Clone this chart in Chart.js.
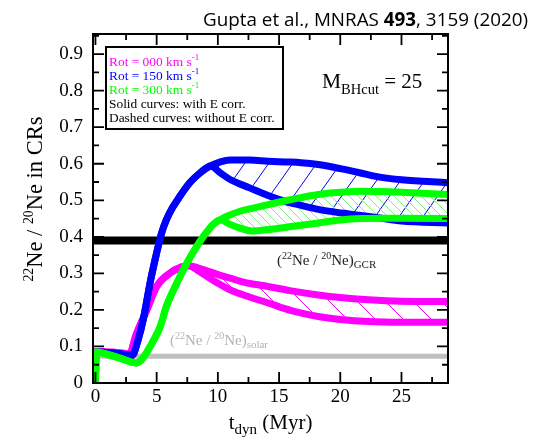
<!DOCTYPE html>
<html>
<head>
<meta charset="utf-8">
<script src="https://cdn.jsdelivr.net/npm/chart.js@4.4.0/dist/chart.umd.min.js"></script>
<style>
  html, body { margin: 0; padding: 0; background: #fff; }
  #wrap { width: 543px; height: 439px; }
</style>
</head>
<body>
<div id="wrap"><canvas id="c" width="543" height="439"></canvas></div>
<script>
// Rot = 000 km/s (magenta)
const tMag = [0.1, 1.5, 2.8, 3.3, 4.2, 5.0, 6.1, 7.0, 7.6, 8.5, 9.1, 9.9, 11.0, 12.1, 14.1, 16.0, 18.2, 20.0, 22.3, 25.0, 28.8];
const magWith = [0.086, 0.084, 0.080, 0.130, 0.200, 0.264, 0.301, 0.317, 0.321, 0.314, 0.307, 0.298, 0.287, 0.276, 0.264, 0.252, 0.241, 0.234, 0.228, 0.224, 0.223];
const magWithout = [0.086, 0.084, 0.080, 0.130, 0.200, 0.264, 0.301, 0.317, 0.321, 0.305, 0.292, 0.275, 0.255, 0.241, 0.219, 0.198, 0.182, 0.174, 0.168, 0.166, 0.166];

// Rot = 150 km/s (blue)
const tBlue = [0.1, 1.5, 3.0, 3.5, 3.9, 4.5, 5.0, 5.4, 5.8, 6.3, 6.9, 7.7, 8.55, 9.4, 10.2, 11.0, 12.6, 14.1, 15.5, 16.8, 18.2, 20.1, 21.5, 23.1, 25.0, 28.8];
const blueWith = [0.085, 0.082, 0.076, 0.120, 0.173, 0.280, 0.356, 0.410, 0.447, 0.480, 0.511, 0.548, 0.575, 0.594, 0.605, 0.610, 0.610, 0.607, 0.605, 0.603, 0.598, 0.586, 0.576, 0.564, 0.556, 0.548];
const blueWithout = [0.085, 0.082, 0.076, 0.120, 0.173, 0.280, 0.356, 0.410, 0.447, 0.480, 0.511, 0.548, 0.575, 0.594, 0.575, 0.557, 0.534, 0.513, 0.497, 0.486, 0.475, 0.465, 0.459, 0.452, 0.443, 0.438];

// Rot = 300 km/s (green)
const tGreen = [0.0, 0.1, 1.0, 2.0, 3.3, 3.8, 4.3, 4.8, 5.3, 5.8, 6.6, 7.5, 8.2, 8.8, 9.5, 10.2, 11.0, 11.8, 12.8, 14.1, 16.0, 18.2, 20.0, 21.7, 23.5, 25.0, 28.8];
const greenWith = [0.005, 0.085, 0.078, 0.068, 0.055, 0.065, 0.090, 0.120, 0.155, 0.210, 0.270, 0.330, 0.370, 0.400, 0.430, 0.447, 0.460, 0.470, 0.478, 0.488, 0.502, 0.516, 0.522, 0.525, 0.524, 0.522, 0.516];
const greenWithout = [0.005, 0.085, 0.078, 0.068, 0.055, 0.065, 0.090, 0.120, 0.155, 0.210, 0.270, 0.330, 0.370, 0.400, 0.430, 0.447, 0.434, 0.424, 0.416, 0.420, 0.428, 0.438, 0.446, 0.450, 0.451, 0.451, 0.450];

// reference ratios
const gcrRatio = 0.39;
const solarRatio = 0.073;
const tSpan = [-0.2, 28.8];

// axes
const xTicks = [0, 5, 10, 15, 20, 25];
const xTickLabels = ['0', '5', '10', '15', '20', '25'];
const xMinor = [2.5, 7.5, 12.5, 17.5, 22.5, 27.5];
const yTicks = [0, 0.1, 0.2, 0.3, 0.4, 0.5, 0.6, 0.7, 0.8, 0.9];
const yTickLabels = ['0', '0.1', '0.2', '0.3', '0.4', '0.5', '0.6', '0.7', '0.8', '0.9'];
const yMinor = [0.05, 0.15, 0.25, 0.35, 0.45, 0.55, 0.65, 0.75, 0.85, 0.95];

const SERIF = '"Liberation Serif", "DejaVu Serif", serif';
const MAG = '#ff00ff', BLUE = '#0000ff', GREEN = '#00ff00';

const pts = (xs, ys) => xs.map((x, i) => ({ x: x, y: ys[i] }));

// diagonal hatch tile; dir > 0 draws "/", otherwise "\"
function hatch(color, dx, dy, dir, lw) {
    const c = document.createElement('canvas');
    c.width = dx; c.height = dy;
    const g = c.getContext('2d');
    g.strokeStyle = color;
    g.lineWidth = lw;
    g.beginPath();
    for (const o of [-1, 0, 1]) {
        if (dir > 0) { g.moveTo(o * dx, dy); g.lineTo(o * dx + dx, 0); }
        else { g.moveTo(o * dx, 0); g.lineTo(o * dx + dx, dy); }
    }
    g.stroke();
    return g.createPattern(c, 'repeat');
}

const curve = (label, xs, ys, color, extra) => Object.assign({
    label: label,
    data: pts(xs, ys),
    borderColor: color,
    borderWidth: 7,
    borderCapStyle: 'round',
    borderJoinStyle: 'round',
    pointRadius: 0,
    cubicInterpolationMode: 'monotone',
    fill: false
}, extra || {});

function measureRuns(ctx, parts, family) {
    let w = 0;
    parts.forEach(p => { ctx.font = `${p[3] || ''} ${p[1]}px ${family || SERIF}`; w += ctx.measureText(p[0]).width; });
    return w;
}

// text made of runs: [text, size, dy, weight]
function runs(ctx, parts, x, y, align, family) {
    const fam = family || SERIF;
    const w = measureRuns(ctx, parts, fam);
    let cx = align === 'center' ? x - w / 2 : align === 'right' ? x - w : x;
    ctx.textAlign = 'left';
    ctx.textBaseline = 'alphabetic';
    parts.forEach(p => {
        ctx.font = `${p[3] || ''} ${p[1]}px ${fam}`;
        ctx.fillText(p[0], cx, y + (p[2] || 0));
        cx += ctx.measureText(p[0]).width;
    });
    return w;
}

const decor = {
    id: 'decor',
    afterDraw(chart) {
        const { ctx, chartArea: a, scales } = chart;
        const xs = scales.x, ys = scales.y;
        ctx.save();

        // frame and inward ticks
        ctx.strokeStyle = '#000';
        ctx.lineWidth = 2;
        ctx.strokeRect(a.left, a.top, a.right - a.left, a.bottom - a.top);
        ctx.lineWidth = 1.8;
        ctx.beginPath();
        const xt = (v, len) => {
            const p = xs.getPixelForValue(v);
            ctx.moveTo(p, a.bottom); ctx.lineTo(p, a.bottom - len);
            ctx.moveTo(p, a.top); ctx.lineTo(p, a.top + len);
        };
        const yt = (v, len) => {
            const p = ys.getPixelForValue(v);
            ctx.moveTo(a.left, p); ctx.lineTo(a.left + len, p);
            ctx.moveTo(a.right, p); ctx.lineTo(a.right - len, p);
        };
        xTicks.forEach(v => xt(v, 11));
        xMinor.forEach(v => xt(v, 6));
        yTicks.forEach(v => yt(v, 11));
        yMinor.forEach(v => yt(v, 6));
        ctx.stroke();

        // legend box
        ctx.fillStyle = '#fff';
        ctx.fillRect(106, 47, 177, 82);
        ctx.lineWidth = 2;
        ctx.strokeRect(106, 47, 177, 82);
        const legRows = [
            ['Rot = 000 km s', MAG, true],
            ['Rot = 150 km s', BLUE, true],
            ['Rot = 300 km s', GREEN, true],
            ['Solid curves: with E corr.', '#000', false],
            ['Dashed curves: without E corr.', '#000', false]
        ];
        legRows.forEach((r, i) => {
            ctx.fillStyle = r[1];
            const parts = [[r[0], 13.4, 0]];
            if (r[2]) parts.push(['-1', 9, -6]);
            runs(ctx, parts, 109, 65.5 + i * 14.2, 'left');
        });

        // panel label
        ctx.fillStyle = '#000';
        runs(ctx, [['M', 21.5, 0], ['BHcut', 14.5, 6], [' = 25', 21, 0]], 322, 88, 'left');

        // reference ratio labels
        const iso = (sub) => [['(', 15, 0], ['22', 10, -6], ['Ne / ', 15, 0], ['20', 10, -6], ['Ne)', 15, 0], [sub, 11, 3]];
        ctx.fillStyle = '#222';
        runs(ctx, iso('GCR'), 277, 265, 'left');
        ctx.fillStyle = '#b3b3b3';
        runs(ctx, iso('solar'), 170, 345, 'left');

        // axis titles
        ctx.fillStyle = '#000';
        const midX = (a.left + a.right) / 2;
        runs(ctx, [['t', 21, 0], ['dyn', 15, 5], [' (Myr)', 21, 0]], midX, 429, 'center');
        const yTitle = [['22', 14, -9], ['Ne / ', 23, 0], ['20', 14, -9], ['Ne in CRs', 23, 0]];
        const yw = measureRuns(ctx, yTitle);
        ctx.save();
        ctx.translate(42, 199);
        ctx.rotate(-Math.PI / 2);
        ctx.scale(165 / yw, 1);
        runs(ctx, yTitle, 0, 0, 'center');
        ctx.restore();

        // citation line
        const sans = '"Open Sans", "Noto Sans", sans-serif';
        const cite = [['Gupta et al., MNRAS ', 19, 0], ['493', 19, 0, 'bold'], [', 3159 (2020)', 19, 0]];
        const cw = measureRuns(ctx, cite, sans);
        ctx.save();
        ctx.translate(528, 26);
        ctx.scale(325 / cw, 1);
        runs(ctx, cite, 0, 0, 'right', sans);
        ctx.restore();

        ctx.restore();
    }
};

const tickFont = { family: SERIF, size: 19 };

new Chart(document.getElementById('c'), {
    type: 'line',
    data: {
        datasets: [
            curve('solar', tSpan, [solarRatio, solarRatio], '#c0c0c0', { borderWidth: 5, borderCapStyle: 'butt', order: 6, cubicInterpolationMode: 'default' }),
            curve('GCR', tSpan, [gcrRatio, gcrRatio], '#000', { borderWidth: 8, borderCapStyle: 'butt', order: 5, cubicInterpolationMode: 'default' }),
            curve('Rot 000 with', tMag, magWith, MAG, { order: 3, fill: 3, backgroundColor: hatch(MAG, 28, 28, -1, 1) }),
            curve('Rot 000 without', tMag, magWithout, MAG, { order: 3 }),
            curve('Rot 150 with', tBlue, blueWith, BLUE, { order: 2, fill: 5, backgroundColor: hatch(BLUE, 24, 34, 1, 1) }),
            curve('Rot 150 without', tBlue, blueWithout, BLUE, { order: 2 }),
            curve('Rot 300 with', tGreen, greenWith, GREEN, { order: 1, fill: 7, backgroundColor: hatch('#80ee80', 9, 9, -1, 1) }),
            curve('Rot 300 without', tGreen, greenWithout, GREEN, { order: 1 })
        ]
    },
    options: {
        responsive: false,
        animation: false,
        devicePixelRatio: 1,
        layout: { padding: { top: 34, right: 95, left: 0, bottom: 0 } },
        plugins: {
            legend: { display: false },
            tooltip: { enabled: false },
            filler: { propagate: false, drawTime: 'beforeDatasetsDraw' }
        },
        scales: {
            x: {
                type: 'linear',
                min: tSpan[0],
                max: tSpan[1],
                grid: { display: false, drawTicks: false },
                border: { display: true, color: '#000', width: 2 },
                ticks: {
                    font: tickFont, color: '#000', padding: 3, maxRotation: 0, autoSkip: false,
                    callback: (v, i) => xTickLabels[i]
                },
                afterBuildTicks: s => { s.ticks = xTicks.map(v => ({ value: v })); },
                afterFit: s => { s.height = 56; }
            },
            y: {
                type: 'linear',
                min: 0,
                max: 0.955,
                grid: { display: false, drawTicks: false },
                border: { display: true, color: '#000', width: 2 },
                ticks: {
                    font: tickFont, color: '#000', padding: 10, autoSkip: false,
                    callback: (v, i) => yTickLabels[i]
                },
                afterBuildTicks: s => { s.ticks = yTicks.map(v => ({ value: v })); },
                afterFit: s => { s.width = 93; }
            }
        }
    },
    plugins: [decor]
});
</script>
</body>
</html>
